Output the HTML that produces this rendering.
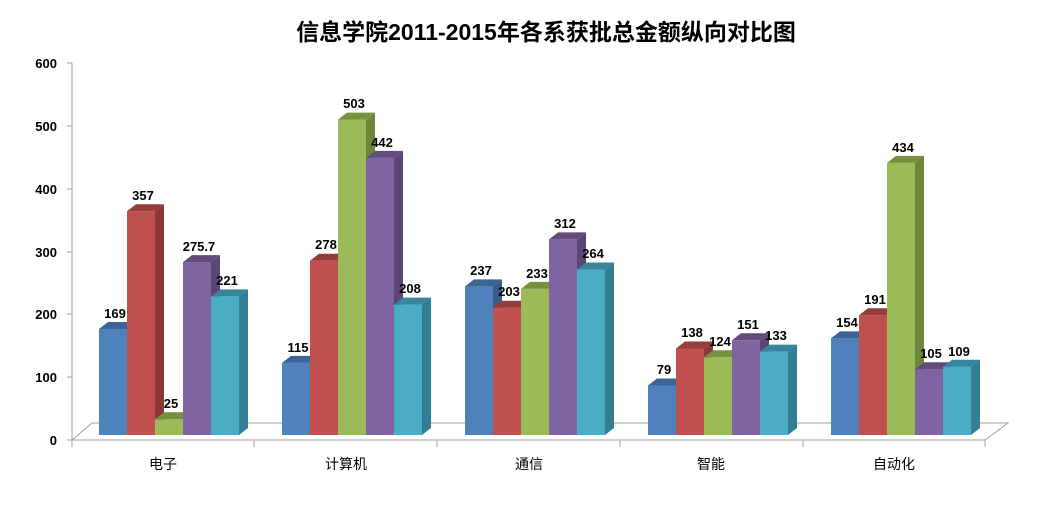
<!DOCTYPE html>
<html><head><meta charset="utf-8"><style>
html,body{margin:0;padding:0;background:#fff}
svg text{font-family:"Liberation Sans","Noto Sans CJK SC",sans-serif}
</style></head><body>
<svg width="1048" height="517" viewBox="0 0 1048 517" xmlns="http://www.w3.org/2000/svg">
<text x="546" y="40" text-anchor="middle" font-size="23" font-weight="bold" fill="#000">信息学院2011-2015年各系获批总金额纵向对比图</text>
<!-- floor -->
<polygon points="72,440 985,440 1008,423 92,423" fill="#fff" stroke="#a0a0a0" stroke-width="1"/>
<!-- y axis -->
<line x1="72" y1="63" x2="72" y2="440" stroke="#a0a0a0"/>
<g stroke="#a0a0a0">
<line x1="67" y1="63" x2="72" y2="63"/><line x1="67" y1="126" x2="72" y2="126"/><line x1="67" y1="189" x2="72" y2="189"/><line x1="67" y1="252" x2="72" y2="252"/><line x1="67" y1="314" x2="72" y2="314"/><line x1="67" y1="377" x2="72" y2="377"/><line x1="67" y1="440" x2="72" y2="440"/>
<line x1="72" y1="440" x2="72" y2="447"/><line x1="254" y1="440" x2="254" y2="447"/><line x1="437" y1="440" x2="437" y2="447"/><line x1="620" y1="440" x2="620" y2="447"/><line x1="803" y1="440" x2="803" y2="447"/><line x1="985" y1="440" x2="985" y2="447"/>
</g>
<g font-size="13" font-weight="bold" text-anchor="end" fill="#000">
<text x="57" y="68">600</text><text x="57" y="131">500</text><text x="57" y="194">400</text><text x="57" y="257">300</text><text x="57" y="319">200</text><text x="57" y="382">100</text><text x="57" y="445">0</text>
</g>
<g font-size="14" text-anchor="middle" fill="#000">
<text x="163" y="469">电子</text><text x="346" y="469">计算机</text><text x="529" y="469">通信</text><text x="711" y="469">智能</text><text x="894" y="469">自动化</text>
</g>
<g id="bars">
<!-- G1 -->
<g transform="translate(99,329)"><rect width="28" height="106" fill="#4F81BD"/><path d="M0 0l9 -7h28l-9 7z" fill="#3C6494"/><path d="M28 0l9 -7v106l-9 7z" fill="#385D8A"/></g>
<g transform="translate(127,211.2)"><rect width="28" height="223.8" fill="#C0504D"/><path d="M0 0l9 -7h28l-9 7z" fill="#953D3B"/><path d="M28 0l9 -7v223.8l-9 7z" fill="#8C3836"/></g>
<g transform="translate(155,419.3)"><rect width="28" height="15.7" fill="#9BBB59"/><path d="M0 0l9 -7h28l-9 7z" fill="#77903F"/><path d="M28 0l9 -7v15.7l-9 7z" fill="#6F873B"/></g>
<g transform="translate(183,262.1)"><rect width="28" height="172.9" fill="#8064A2"/><path d="M0 0l9 -7h28l-9 7z" fill="#624C7D"/><path d="M28 0l9 -7v172.9l-9 7z" fill="#5B4775"/></g>
<g transform="translate(211,296.4)"><rect width="28" height="138.6" fill="#4BACC6"/><path d="M0 0l9 -7h28l-9 7z" fill="#37869B"/><path d="M28 0l9 -7v138.6l-9 7z" fill="#327E92"/></g>
<!-- G2 -->
<g transform="translate(282,362.9)"><rect width="28" height="72.1" fill="#4F81BD"/><path d="M0 0l9 -7h28l-9 7z" fill="#3C6494"/><path d="M28 0l9 -7v72.1l-9 7z" fill="#385D8A"/></g>
<g transform="translate(310,260.7)"><rect width="28" height="174.3" fill="#C0504D"/><path d="M0 0l9 -7h28l-9 7z" fill="#953D3B"/><path d="M28 0l9 -7v174.3l-9 7z" fill="#8C3836"/></g>
<g transform="translate(338,119.6)"><rect width="28" height="315.4" fill="#9BBB59"/><path d="M0 0l9 -7h28l-9 7z" fill="#77903F"/><path d="M28 0l9 -7v315.4l-9 7z" fill="#6F873B"/></g>
<g transform="translate(366,157.9)"><rect width="28" height="277.1" fill="#8064A2"/><path d="M0 0l9 -7h28l-9 7z" fill="#624C7D"/><path d="M28 0l9 -7v277.1l-9 7z" fill="#5B4775"/></g>
<g transform="translate(394,304.6)"><rect width="28" height="130.4" fill="#4BACC6"/><path d="M0 0l9 -7h28l-9 7z" fill="#37869B"/><path d="M28 0l9 -7v130.4l-9 7z" fill="#327E92"/></g>
<!-- G3 -->
<g transform="translate(465,286.4)"><rect width="28" height="148.6" fill="#4F81BD"/><path d="M0 0l9 -7h28l-9 7z" fill="#3C6494"/><path d="M28 0l9 -7v148.6l-9 7z" fill="#385D8A"/></g>
<g transform="translate(493,307.7)"><rect width="28" height="127.3" fill="#C0504D"/><path d="M0 0l9 -7h28l-9 7z" fill="#953D3B"/><path d="M28 0l9 -7v127.3l-9 7z" fill="#8C3836"/></g>
<g transform="translate(521,288.9)"><rect width="28" height="146.1" fill="#9BBB59"/><path d="M0 0l9 -7h28l-9 7z" fill="#77903F"/><path d="M28 0l9 -7v146.1l-9 7z" fill="#6F873B"/></g>
<g transform="translate(549,239.4)"><rect width="28" height="195.6" fill="#8064A2"/><path d="M0 0l9 -7h28l-9 7z" fill="#624C7D"/><path d="M28 0l9 -7v195.6l-9 7z" fill="#5B4775"/></g>
<g transform="translate(577,269.5)"><rect width="28" height="165.5" fill="#4BACC6"/><path d="M0 0l9 -7h28l-9 7z" fill="#37869B"/><path d="M28 0l9 -7v165.5l-9 7z" fill="#327E92"/></g>
<!-- G4 -->
<g transform="translate(648,385.5)"><rect width="28" height="49.5" fill="#4F81BD"/><path d="M0 0l9 -7h28l-9 7z" fill="#3C6494"/><path d="M28 0l9 -7v49.5l-9 7z" fill="#385D8A"/></g>
<g transform="translate(676,348.5)"><rect width="28" height="86.5" fill="#C0504D"/><path d="M0 0l9 -7h28l-9 7z" fill="#953D3B"/><path d="M28 0l9 -7v86.5l-9 7z" fill="#8C3836"/></g>
<g transform="translate(704,357.3)"><rect width="28" height="77.7" fill="#9BBB59"/><path d="M0 0l9 -7h28l-9 7z" fill="#77903F"/><path d="M28 0l9 -7v77.7l-9 7z" fill="#6F873B"/></g>
<g transform="translate(732,340.3)"><rect width="28" height="94.7" fill="#8064A2"/><path d="M0 0l9 -7h28l-9 7z" fill="#624C7D"/><path d="M28 0l9 -7v94.7l-9 7z" fill="#5B4775"/></g>
<g transform="translate(760,351.6)"><rect width="28" height="83.4" fill="#4BACC6"/><path d="M0 0l9 -7h28l-9 7z" fill="#37869B"/><path d="M28 0l9 -7v83.4l-9 7z" fill="#327E92"/></g>
<!-- G5 -->
<g transform="translate(831,338.4)"><rect width="28" height="96.6" fill="#4F81BD"/><path d="M0 0l9 -7h28l-9 7z" fill="#3C6494"/><path d="M28 0l9 -7v96.6l-9 7z" fill="#385D8A"/></g>
<g transform="translate(859,315.2)"><rect width="28" height="119.8" fill="#C0504D"/><path d="M0 0l9 -7h28l-9 7z" fill="#953D3B"/><path d="M28 0l9 -7v119.8l-9 7z" fill="#8C3836"/></g>
<g transform="translate(887,162.9)"><rect width="28" height="272.1" fill="#9BBB59"/><path d="M0 0l9 -7h28l-9 7z" fill="#77903F"/><path d="M28 0l9 -7v272.1l-9 7z" fill="#6F873B"/></g>
<g transform="translate(915,369.2)"><rect width="28" height="65.8" fill="#8064A2"/><path d="M0 0l9 -7h28l-9 7z" fill="#624C7D"/><path d="M28 0l9 -7v65.8l-9 7z" fill="#5B4775"/></g>
<g transform="translate(943,366.7)"><rect width="28" height="68.3" fill="#4BACC6"/><path d="M0 0l9 -7h28l-9 7z" fill="#37869B"/><path d="M28 0l9 -7v68.3l-9 7z" fill="#327E92"/></g>
</g>
<g font-size="13" font-weight="bold" text-anchor="middle" fill="#000">
<text x="115" y="318">169</text><text x="143" y="200">357</text><text x="171" y="408">25</text><text x="199" y="251">275.7</text><text x="227" y="285">221</text>
<text x="298" y="352">115</text><text x="326" y="249">278</text><text x="354" y="108">503</text><text x="382" y="147">442</text><text x="410" y="293">208</text>
<text x="481" y="275">237</text><text x="509" y="296">203</text><text x="537" y="278">233</text><text x="565" y="228">312</text><text x="593" y="258">264</text>
<text x="664" y="374">79</text><text x="692" y="337">138</text><text x="720" y="346">124</text><text x="748" y="329">151</text><text x="776" y="340">133</text>
<text x="847" y="327">154</text><text x="875" y="304">191</text><text x="903" y="152">434</text><text x="931" y="358">105</text><text x="959" y="356">109</text>
</g>
</svg>
</body></html>
